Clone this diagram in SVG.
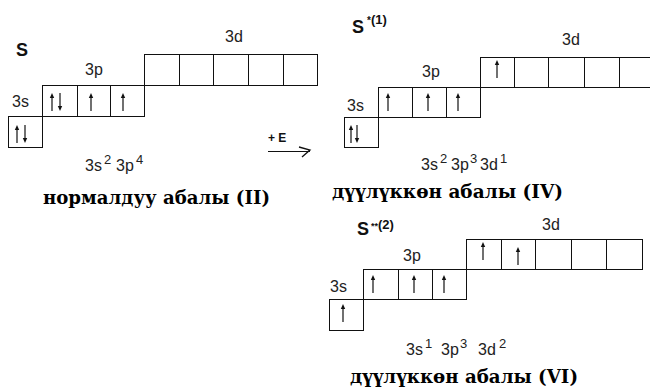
<svg xmlns="http://www.w3.org/2000/svg" xmlns:xlink="http://www.w3.org/1999/xlink" width="650" height="388" viewBox="0 0 650 388">
<style>
.box{fill:none;stroke:#111;stroke-width:1}
.lbl{font-family:"Liberation Sans",Arial,sans-serif;font-size:16px;fill:#222}
.sup{font-size:13px}
.el{font-family:"Liberation Sans",Arial,sans-serif;font-size:18px;font-weight:bold;fill:#111}
.elsup{font-family:"Liberation Sans",Arial,sans-serif;font-size:13px;font-weight:bold;fill:#111}
.title{font-family:"DejaVu Serif","Liberation Serif",serif;font-size:18px;font-weight:bold;fill:#000}
.arr line{stroke:#111;stroke-width:1.2}
.arr polygon{fill:#111}
</style>
<defs>
<g id="up" class="arr"><line x1="0" y1="3" x2="0" y2="18"/><polygon points="-2.2,5 0,0 2.2,5"/></g>
<g id="dn" class="arr"><line x1="0" y1="0" x2="0" y2="15"/><polygon points="-2.2,13 0,18 2.2,13"/></g>
</defs>
<rect width="650" height="388" fill="#fff"/>

<g id="state-normal">
<text class="el" x="16" y="56">S</text>
<text class="lbl" x="12" y="107">3s</text>
<text class="lbl" x="85" y="75">3p</text>
<text class="lbl" x="225" y="42">3d</text>
<g id="n-3s">
<rect class="box" x="8.5" y="116.5" width="34" height="31"/>
<use xlink:href="#up" x="17" y="125"/><use xlink:href="#dn" x="25" y="125"/>
</g>
<g id="n-3p">
<rect class="box" x="42.5" y="85.5" width="102" height="31"/>
<line class="box" x1="77.5" y1="85.5" x2="77.5" y2="116.5"/><line class="box" x1="110.5" y1="85.5" x2="110.5" y2="116.5"/>
<use xlink:href="#up" x="52" y="93"/><use xlink:href="#dn" x="60" y="93"/>
<use xlink:href="#up" x="91" y="93"/><use xlink:href="#up" x="123" y="93"/>
</g>
<g id="n-3d">
<rect class="box" x="144.5" y="54.5" width="173" height="31"/>
<line class="box" x1="179.5" y1="54.5" x2="179.5" y2="85.5"/><line class="box" x1="213.5" y1="54.5" x2="213.5" y2="85.5"/>
<line class="box" x1="248.5" y1="54.5" x2="248.5" y2="85.5"/><line class="box" x1="283.5" y1="54.5" x2="283.5" y2="85.5"/>
</g>
<text class="lbl"><tspan x="85" y="171">3s</tspan><tspan class="sup" x="104" y="164">2</tspan><tspan x="116" y="171">3p</tspan><tspan class="sup" x="136" y="164">4</tspan></text>
<text class="title" x="43" y="204" textLength="227" lengthAdjust="spacingAndGlyphs">нормалдуу абалы (II)</text>
</g>

<g id="connectors">
<text x="268" y="142" font-family="Liberation Sans,Arial,sans-serif" font-size="12" font-weight="bold" fill="#111">+ E</text>
<line x1="268" y1="151.5" x2="310" y2="151.5" stroke="#111" stroke-width="1.2"/>
<polyline points="299,147 310,150 302,157" fill="none" stroke="#111" stroke-width="1.3"/>
</g>

<g id="state-excited1">
<text class="el" x="352" y="33">S</text>
<text class="elsup" x="367" y="24"><tspan font-size="10">*</tspan>(1)</text>
<text class="lbl" x="347" y="111">3s</text>
<text class="lbl" x="422" y="77">3p</text>
<text class="lbl" x="562" y="45">3d</text>
<g id="e1-3s">
<rect class="box" x="344.5" y="117.5" width="34" height="30"/>
<use xlink:href="#up" x="351" y="125"/><use xlink:href="#dn" x="357" y="125"/>
</g>
<g id="e1-3p">
<rect class="box" x="378.5" y="87.5" width="102" height="30"/>
<line class="box" x1="412.5" y1="87.5" x2="412.5" y2="117.5"/><line class="box" x1="446.5" y1="87.5" x2="446.5" y2="117.5"/>
<use xlink:href="#up" x="388" y="93"/><use xlink:href="#up" x="428" y="93"/><use xlink:href="#up" x="458" y="93"/>
</g>
<g id="e1-3d">
<rect class="box" x="480.5" y="57.5" width="176" height="30"/>
<line class="box" x1="514.5" y1="57.5" x2="514.5" y2="87.5"/><line class="box" x1="548.5" y1="57.5" x2="548.5" y2="87.5"/>
<line class="box" x1="584.5" y1="57.5" x2="584.5" y2="87.5"/><line class="box" x1="619.5" y1="57.5" x2="619.5" y2="87.5"/>
<use xlink:href="#up" x="497" y="60"/>
</g>
<text class="lbl"><tspan x="421" y="170">3s</tspan><tspan class="sup" x="440" y="163">2</tspan><tspan x="451" y="170">3p</tspan><tspan class="sup" x="470" y="163">3</tspan><tspan x="480" y="170">3d</tspan><tspan class="sup" x="500" y="163">1</tspan></text>
<text class="title" x="332" y="198" textLength="231" lengthAdjust="spacingAndGlyphs">дүүлүккөн абалы (IV)</text>
</g>

<g id="state-excited2">
<text class="el" x="357" y="235">S</text>
<text class="elsup" x="371" y="229"><tspan font-size="9">**</tspan>(2)</text>
<text class="lbl" x="330" y="292">3s</text>
<text class="lbl" x="403" y="261">3p</text>
<text class="lbl" x="542" y="230">3d</text>
<g id="e2-3s">
<rect class="box" x="329.5" y="299.5" width="34" height="31"/>
<use xlink:href="#up" x="343" y="304"/>
</g>
<g id="e2-3p">
<rect class="box" x="363.5" y="269.5" width="103" height="30"/>
<line class="box" x1="398.5" y1="269.5" x2="398.5" y2="299.5"/><line class="box" x1="432.5" y1="269.5" x2="432.5" y2="299.5"/>
<use xlink:href="#up" x="373" y="275"/><use xlink:href="#up" x="414" y="275"/><use xlink:href="#up" x="444" y="275"/>
</g>
<g id="e2-3d">
<rect class="box" x="466.5" y="239.5" width="176" height="30"/>
<line class="box" x1="501.5" y1="239.5" x2="501.5" y2="269.5"/><line class="box" x1="535.5" y1="239.5" x2="535.5" y2="269.5"/>
<line class="box" x1="571.5" y1="239.5" x2="571.5" y2="269.5"/><line class="box" x1="606.5" y1="239.5" x2="606.5" y2="269.5"/>
<use xlink:href="#up" x="483" y="242"/><use xlink:href="#up" x="518" y="247"/>
</g>
<text class="lbl"><tspan x="406" y="355">3s</tspan><tspan class="sup" x="425" y="348">1</tspan><tspan x="441" y="355">3p</tspan><tspan class="sup" x="460" y="348">3</tspan><tspan x="478" y="355">3d</tspan><tspan class="sup" x="499" y="348">2</tspan></text>
<text class="title" x="350" y="383" textLength="228" lengthAdjust="spacingAndGlyphs">дүүлүккөн абалы (VI)</text>
</g>
</svg>
